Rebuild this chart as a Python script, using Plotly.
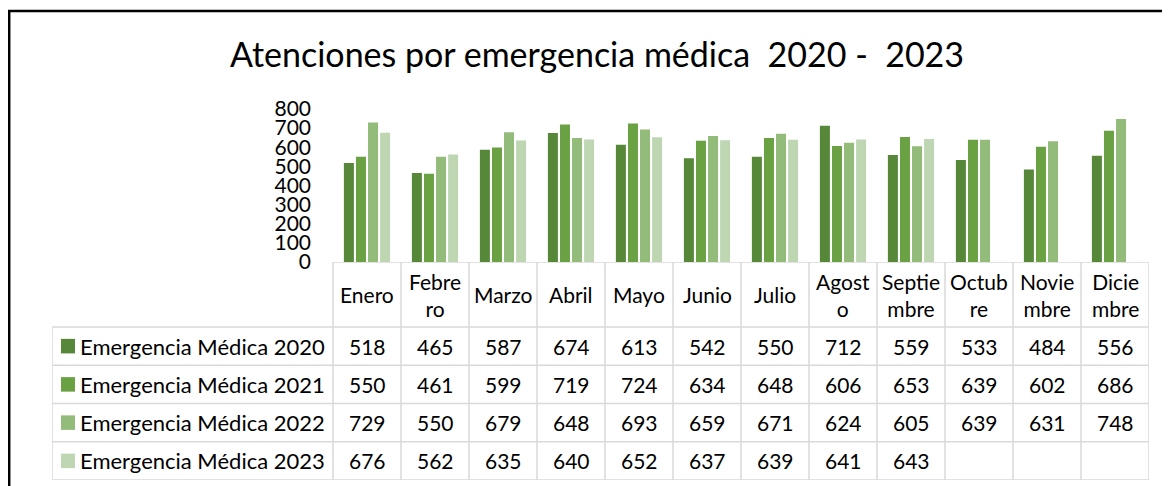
import plotly.graph_objects as go

# data
months = ["Enero", "Febrero", "Marzo", "Abril", "Mayo", "Junio",
          "Julio", "Agosto", "Septiembre", "Octubre", "Noviembre", "Diciembre"]
header_labels = ["Enero", "Febre<br>ro", "Marzo", "Abril", "Mayo", "Junio",
                 "Julio", "Agost<br>o", "Septie<br>mbre", "Octub<br>re", "Novie<br>mbre", "Dicie<br>mbre"]
series_names = ["Emergencia Médica 2020", "Emergencia Médica 2021",
                "Emergencia Médica 2022", "Emergencia Médica 2023"]
v2020 = [518, 465, 587, 674, 613, 542, 550, 712, 559, 533, 484, 556]
v2021 = [550, 461, 599, 719, 724, 634, 648, 606, 653, 639, 602, 686]
v2022 = [729, 550, 679, 648, 693, 659, 671, 624, 605, 639, 631, 748]
v2023 = [676, 562, 635, 640, 652, 637, 639, 641, 643, None, None, None]
values = [v2020, v2021, v2022, v2023]
colors = ["#578738", "#6aa143", "#93bb7a", "#bed6b2"]

W, H = 1170, 486
OFF = 8  # page body margin
FONT = "Lato"
GRID = "#d9d9d9"

# layout helpers (screen pixel -> paper)
def px(x):
    return (x - OFF) / W

def py(y):
    return 1 - (y - OFF) / H

col_w = (1149 - 333) / 12.0
x_left = -0.5 - (333 - 52) / col_w   # left edge of legend column in axis units

def ax_x(p):
    return (p - 333) / col_w - 0.5

fig = go.Figure()
for name, vals, c in zip(series_names, values, colors):
    fig.add_trace(go.Bar(x=months, y=vals, name=name, marker_color=c,
                         marker_line_width=0, showlegend=False, hoverinfo="y"))
# empty trace so the table subplot exists
fig.add_trace(go.Scatter(x=[], y=[], xaxis="x", yaxis="y2", showlegend=False))

shapes = []
annotations = []
ln = dict(color=GRID, width=1.5)

# table grid
for j in range(13):
    shapes.append(dict(type="line", xref="x", yref="y2", x0=j - 0.5, x1=j - 0.5,
                       y0=-1.7, y1=4, line=ln))
shapes.append(dict(type="line", xref="x", yref="y2", x0=x_left, x1=x_left,
                   y0=0, y1=4, line=ln))
for r in range(5):
    shapes.append(dict(type="line", xref="x", yref="y2", x0=x_left, x1=11.5,
                       y0=r, y1=r, line=ln))
shapes.append(dict(type="line", xref="x", yref="y2", x0=-0.5, x1=11.5,
                   y0=-1.7, y1=-1.7, line=ln))

# header cells
for m, lab in zip(months, header_labels):
    annotations.append(dict(x=m, y=-0.85, xref="x", yref="y2", text=lab,
                            showarrow=False, font=dict(size=21, color="black", family=FONT),
                            xanchor="center", yanchor="middle"))

# legend column + values
for i, (name, vals, c) in enumerate(zip(series_names, values, colors)):
    shapes.append(dict(type="rect", xref="x", yref="y2", x0=ax_x(61), x1=ax_x(75),
                       y0=i + 0.5 - 0.19, y1=i + 0.5 + 0.19, fillcolor=c, line_width=0))
    annotations.append(dict(x=ax_x(78), y=i + 0.5, xref="x", yref="y2", text=name,
                            showarrow=False, font=dict(size=22, color="black", family=FONT),
                            xanchor="left", yanchor="middle"))
    for m, v in zip(months, vals):
        if v is None:
            continue
        annotations.append(dict(x=m, y=i + 0.5, xref="x", yref="y2", text=str(v),
                                showarrow=False, font=dict(size=21, color="black", family=FONT),
                                xanchor="center", yanchor="middle"))

# outer frame (cropped chart border)
shapes.append(dict(type="path", xref="paper", yref="paper",
                   path=f"M {px(9.2)},{py(500)} L {px(9.2)},{py(11)} L {px(1180)},{py(11)}",
                   line=dict(color="black", width=2.5)))

fig.update_layout(
    width=W, height=H,
    margin=dict(l=0, r=0, t=0, b=0, autoexpand=False),
    paper_bgcolor="white", plot_bgcolor="white",
    font=dict(family=FONT, size=21, color="black"),
    title=dict(text="Atenciones por emergencia médica  2020 -  2023",
               x=px(597), y=py(55), xanchor="center", yanchor="middle",
               font=dict(size=34, family=FONT, color="black")),
    barmode="group", bargap=0.29, bargroupgap=0.17,
    xaxis=dict(type="category", range=[x_left, 11.5], domain=[px(52), px(1149)],
               showticklabels=False, showgrid=False, zeroline=False, showline=False,
               ticks="", anchor="y"),
    yaxis=dict(range=[0, 800], domain=[py(262), py(109)], dtick=100,
               anchor="free", position=px(333), showgrid=False, zeroline=False,
               showline=False, ticks="", ticklabelstandoff=22,
               tickfont=dict(size=21, family=FONT, color="black")),
    yaxis2=dict(range=[4, -1.7], domain=[py(480), py(262)], visible=False,
                anchor="x"),
    shapes=shapes, annotations=annotations,
)

fig.write_html("out.html")
